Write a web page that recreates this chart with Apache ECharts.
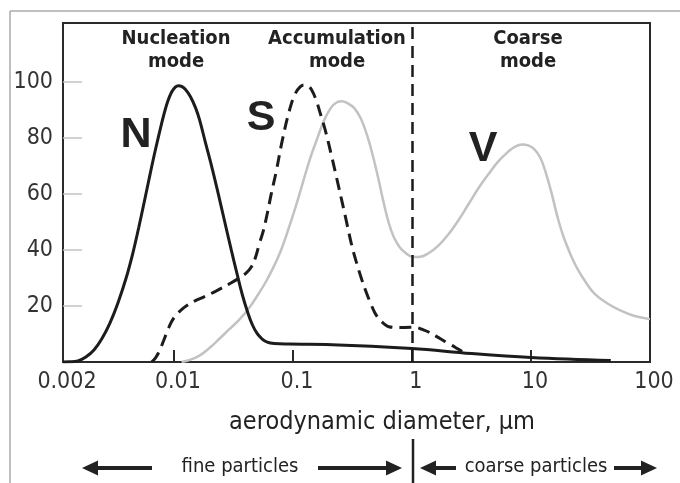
<!DOCTYPE html>
<html><head><meta charset="utf-8">
<script src="https://cdn.jsdelivr.net/npm/echarts@6/dist/echarts.min.js"></script>
<style>html,body{margin:0;padding:0;background:#fff}#c{width:680px;height:483px}</style>
</head><body><div id="c"></div>
<script>
// ---- data (x: aerodynamic diameter in µm, y: relative amount) ----
const nucleationN = [[0.00117,0],[0.00134,0.05],[0.00156,0.4],[0.00182,1.8],[0.00213,4.3],[0.00248,8.3],[0.00290,13.9],[0.00338,21.0],[0.00395,29.7],[0.00452,38.9],[0.00507,48.1],[0.00558,56.3],[0.00603,63.1],[0.00651,69.8],[0.00703,76.2],[0.00759,82.2],[0.00819,87.9],[0.00885,92.9],[0.00955,96.3],[0.01032,98.2],[0.01094,98.6],[0.01160,98.4],[0.01251,97.3],[0.01378,94.7],[0.01518,90.8],[0.01641,86.5],[0.01841,78.3],[0.02108,68.7],[0.02365,59.8],[0.02654,50.6],[0.03037,39.9],[0.03409,31.1],[0.03757,24.0],[0.04140,18.1],[0.04561,13.3],[0.05016,10.1],[0.05521,8.2],[0.06081,7.1],[0.06963,6.6],[0.09277,6.4],[0.2124,6.2],[1.0,4.8],[3.16,3.0],[10,1.6],[46.8,0.5]];
const accumulationS = [[0.00650,0],[0.00703,1.6],[0.00759,4.1],[0.00819,7.6],[0.00885,11.2],[0.00955,14.4],[0.01052,16.9],[0.01160,18.7],[0.01277,20.1],[0.01490,21.7],[0.01807,23.3],[0.02276,25.4],[0.02924,27.9],[0.03545,30.0],[0.04058,31.8],[0.04468,33.9],[0.04826,37.1],[0.05212,42.1],[0.05629,46.7],[0.06081,52.9],[0.06568,59.9],[0.07238,68.0],[0.08132,79.0],[0.09277,89.3],[0.1043,95.7],[0.1149,98.2],[0.1241,98.9],[0.1341,98.6],[0.1448,96.8],[0.1564,93.6],[0.1690,89.0],[0.1862,83.0],[0.2089,74.4],[0.2438,62.0],[0.2788,51.0],[0.3129,41.4],[0.3447,35.0],[0.3797,29.3],[0.4182,24.3],[0.4511,20.8],[0.4875,17.6],[0.5263,15.5],[0.5798,13.7],[0.6387,12.6],[0.7734,12.3],[0.9753,12.4],[1.095,12.3],[1.206,11.7],[1.379,10.7],[1.672,8.7],[2.027,6.6],[2.318,5.2],[2.602,3.9],[2.871,3.0]];
const coarseV = [[0.01160,0],[0.01352,0.7],[0.01641,2.3],[0.01990,5.0],[0.02412,8.3],[0.02924,11.7],[0.03545,15.1],[0.04297,19.4],[0.05012,23.6],[0.05846,28.2],[0.06819,33.6],[0.07954,40.0],[0.09277,48.1],[0.1063,55.9],[0.1218,64.4],[0.1393,72.6],[0.1595,79.6],[0.1825,86.2],[0.2089,90.8],[0.2345,92.7],[0.2582,93.1],[0.2840,92.5],[0.3249,90.8],[0.3721,86.9],[0.4259,80.1],[0.4780,72.3],[0.5263,64.8],[0.5798,56.7],[0.6387,49.6],[0.7029,44.6],[0.7890,41.0],[0.8852,38.9],[1.0,37.6],[1.144,37.5],[1.388,38.9],[1.683,41.7],[2.027,45.6],[2.459,50.6],[2.983,56.3],[3.617,62.0],[4.384,67.0],[5.312,71.6],[6.442,75.1],[7.375,76.9],[8.438,77.6],[9.47,77.3],[10.64,76.0],[11.95,73.0],[13.15,68.3],[14.76,60.9],[16.90,51.0],[19.33,43.2],[23.44,34.9],[28.43,28.9],[34.46,24.2],[44.26,20.8],[56.87,18.3],[73.04,16.5],[100,15.3]];
const fineCoarseCut = 1;
const yTickValues = [20, 40, 60, 80, 100];
const xTickLabels = ['0.002', '0.01', '0.1', '1', '10', '100'];
const modeTitles = ['Nucleation\nmode', 'Accumulation\nmode', 'Coarse\nmode'];
const curveLetters = ['N', 'S', 'V'];
const xAxisTitle = 'aerodynamic diameter, µm';
const bottomTexts = ['fine particles', 'coarse particles'];

const FONT = '"DejaVu Sans Condensed", "DejaVu Sans", sans-serif';
const INK = '#222';

function arrow(x1, x2, y, color) {
  // x1 = tail, x2 = tip
  const dir = x2 > x1 ? 1 : -1;
  const head = 16, hw = 7.5;
  return {
    type: 'group', children: [
      { type: 'line', shape: { x1: x1, y1: y, x2: x2 - dir * head + dir * 2, y2: y }, style: { stroke: color, lineWidth: 4 } },
      { type: 'polygon', shape: { points: [[x2, y], [x2 - dir * head, y - hw], [x2 - dir * head, y + hw]] }, style: { fill: color } }
    ]
  };
}

const chart = echarts.init(document.getElementById('c'), null, { renderer: 'canvas' });
const option = {
  animation: false,
  backgroundColor: '#fff',
  grid: { left: 63, right: 30, top: 23, bottom: 121, show: true, borderColor: '#2a2a2a', borderWidth: 2, backgroundColor: 'transparent' },
  xAxis: {
    type: 'log', logBase: 10, min: 0.00117, max: 100,
    axisLine: { show: true, lineStyle: { color: '#2a2a2a', width: 2 } },
    axisTick: { show: true, inside: true, length: 12, lineStyle: { color: '#2a2a2a', width: 2 } },
    minorTick: { show: false },
    splitLine: { show: false },
    axisLabel: {
      show: true, color: '#333', fontFamily: FONT, fontSize: 23, margin: 9, padding: [0, 0, 0, 8],
      showMinLabel: true, showMaxLabel: true,
      formatter: function (v) {
        if (v < 0.005) return xTickLabels[0];
        const s = String(Number(v.toPrecision(6)));
        return xTickLabels.indexOf(s) >= 0 ? s : '';
      }
    }
  },
  yAxis: {
    type: 'value', min: 0, max: 121,
    axisLine: { show: true, lineStyle: { color: '#2a2a2a', width: 2 } },
    axisTick: { show: true, inside: true, length: 19, customValues: yTickValues, lineStyle: { color: '#c4c4c4', width: 1.5 } },
    axisLabel: { show: true, customValues: yTickValues, color: '#333', fontFamily: FONT, fontSize: 23, margin: 10 },
    splitLine: { show: false }
  },
  series: [
    {
      name: 'V', type: 'line', data: coarseV, smooth: 0.4, symbol: 'none',
      lineStyle: { color: '#c2c2c2', width: 2.5 }, z: 2,
      markLine: {
        silent: true, symbol: ['none', 'none'], label: { show: false },
        lineStyle: { color: '#1a1a1a', width: 2.5, type: [12, 7] },
        data: [{ xAxis: fineCoarseCut }]
      }
    },
    {
      name: 'S', type: 'line', data: accumulationS, smooth: 0.4, symbol: 'none',
      lineStyle: { color: '#1c1c1c', width: 3, type: [12, 7] }, z: 3
    },
    {
      name: 'N', type: 'line', data: nucleationN, smooth: 0.4, symbol: 'none',
      lineStyle: { color: '#1c1c1c', width: 3 }, z: 4
    }
  ],
  graphic: [
    // outer frame of the figure
    { type: 'line', shape: { x1: 10, y1: 11, x2: 680, y2: 11 }, style: { stroke: '#aaa', lineWidth: 1.5 } },
    { type: 'line', shape: { x1: 10, y1: 11, x2: 10, y2: 483 }, style: { stroke: '#aaa', lineWidth: 1.5 } },
    // mode titles
    { type: 'text', x: 176, y: 27, style: { text: modeTitles[0], fill: INK, font: 'bold 20px ' + FONT, textAlign: 'center', textVerticalAlign: 'top', lineHeight: 23 } },
    { type: 'text', x: 337, y: 27, style: { text: modeTitles[1], fill: INK, font: 'bold 20px ' + FONT, textAlign: 'center', textVerticalAlign: 'top', lineHeight: 23 } },
    { type: 'text', x: 528, y: 27, style: { text: modeTitles[2], fill: INK, font: 'bold 20px ' + FONT, textAlign: 'center', textVerticalAlign: 'top', lineHeight: 23 } },
    // curve letters
    { type: 'text', x: 136, y: 135, style: { text: curveLetters[0], fill: INK, font: 'bold 43px "Liberation Sans", Arial, sans-serif', textAlign: 'center', textVerticalAlign: 'middle' } },
    { type: 'text', x: 261, y: 118, style: { text: curveLetters[1], fill: INK, font: 'bold 43px "Liberation Sans", Arial, sans-serif', textAlign: 'center', textVerticalAlign: 'middle' } },
    { type: 'text', x: 483, y: 149, style: { text: curveLetters[2], fill: INK, font: 'bold 43px "Liberation Sans", Arial, sans-serif', textAlign: 'center', textVerticalAlign: 'middle' } },
    // x axis title
    { type: 'text', x: 382, y: 422, style: { text: xAxisTitle, fill: INK, font: '25px ' + FONT, textAlign: 'center', textVerticalAlign: 'middle' } },
    // bottom: fine / coarse particles
    { type: 'line', shape: { x1: 413, y1: 439, x2: 413, y2: 483 }, style: { stroke: INK, lineWidth: 2.5 } },
    arrow(152, 82, 468, INK),
    { type: 'text', x: 240, y: 467, style: { text: bottomTexts[0], fill: INK, font: '20px ' + FONT, textAlign: 'center', textVerticalAlign: 'middle' } },
    arrow(318, 402, 468, INK),
    arrow(456, 420, 468, INK),
    { type: 'text', x: 536, y: 467, style: { text: bottomTexts[1], fill: INK, font: '20px ' + FONT, textAlign: 'center', textVerticalAlign: 'middle' } },
    arrow(614, 657, 468, INK)
  ]
};
chart.setOption(option);
</script>
</body></html>
